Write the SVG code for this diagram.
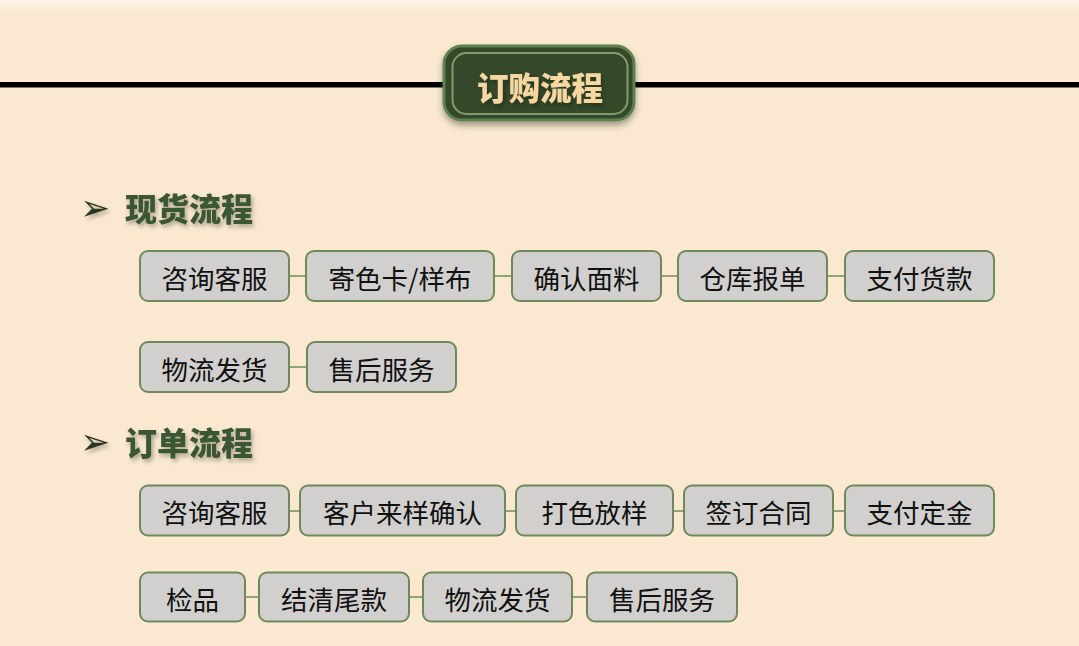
<svg xmlns="http://www.w3.org/2000/svg" width="1079" height="646" viewBox="0 0 1079 646">
<defs>
<linearGradient id="bgTop" x1="0" y1="0" x2="0" y2="1">
<stop offset="0" stop-color="#fdf6ea"/>
<stop offset="1" stop-color="#fae9d0"/>
</linearGradient>
<filter id="shadow" x="-20%" y="-20%" width="140%" height="160%">
<feDropShadow dx="0" dy="4" stdDeviation="3" flood-color="#000" flood-opacity="0.35"/>
</filter>
<filter id="tshadow" x="-10%" y="-20%" width="130%" height="160%">
<feDropShadow dx="2" dy="3" stdDeviation="2" flood-color="#000" flood-opacity="0.3"/>
</filter>
<style>
.box{fill:#d1d0cf;stroke:#6e8a5c;stroke-width:2}
.lbl{font-family:"Noto Sans CJK SC","Noto Sans",sans-serif;font-size:26.5px;fill:#111;text-anchor:middle;dominant-baseline:central}
.conn line{stroke:#6e8a5c;stroke-width:1.5}
.head{font-family:"Noto Sans CJK SC",sans-serif;font-size:32px;font-weight:900;fill:#3b5732}
.arrow{font-family:"DejaVu Sans",sans-serif;font-size:36px;fill:#2a3824}
</style>
</defs>
<rect x="0" y="0" width="1079" height="646" fill="#fae9d0"/>
<rect x="0" y="0" width="1079" height="12" fill="url(#bgTop)"/>
<g id="header">
<rect x="0" y="82" width="445" height="5.5" fill="#000"/>
<rect x="633" y="82" width="446" height="5.5" fill="#000"/>
<rect x="444" y="46" width="190" height="74" rx="18" fill="#344a2c" stroke="#5f8050" stroke-width="3" filter="url(#shadow)"/>
<rect x="452.5" y="53" width="175" height="61" rx="14" fill="none" stroke="#809c69" stroke-width="2"/>
<text x="540" y="100" text-anchor="middle" font-family="Noto Sans CJK SC,sans-serif" font-size="31.5" font-weight="900" fill="#f6d7a1" filter="url(#tshadow)">订购流程</text>
</g>
<g id="heading1">
<text class="arrow" x="80" y="220" filter="url(#tshadow)">➢</text>
<text class="head" x="125" y="221" filter="url(#tshadow)">现货流程</text>
</g>
<g id="heading2">
<text class="arrow" x="80" y="454" filter="url(#tshadow)">➢</text>
<text class="head" x="125" y="455" filter="url(#tshadow)">订单流程</text>
</g>
<g id="connectors" class="conn">
<line x1="289" y1="276" x2="306" y2="276"/>
<line x1="494" y1="276" x2="512" y2="276"/>
<line x1="661" y1="276" x2="678" y2="276"/>
<line x1="827" y1="276" x2="845" y2="276"/>
<line x1="289" y1="367" x2="307" y2="367"/>
<line x1="289" y1="511" x2="300" y2="511"/>
<line x1="505" y1="511" x2="516" y2="511"/>
<line x1="673" y1="511" x2="684" y2="511"/>
<line x1="833" y1="511" x2="845" y2="511"/>
<line x1="245" y1="597" x2="259" y2="597"/>
<line x1="409" y1="597" x2="423" y2="597"/>
<line x1="572" y1="597" x2="587" y2="597"/>
</g>
<g id="n1"><rect class="box" x="140" y="251" width="149" height="50" rx="8"/><text class="lbl" x="214.5" y="277">咨询客服</text></g>
<g id="n2"><rect class="box" x="306" y="251" width="188" height="50" rx="8"/><text class="lbl" x="400" y="277">寄色卡/样布</text></g>
<g id="n3"><rect class="box" x="512" y="251" width="149" height="50" rx="8"/><text class="lbl" x="586.5" y="277">确认面料</text></g>
<g id="n4"><rect class="box" x="678" y="251" width="149" height="50" rx="8"/><text class="lbl" x="752.5" y="277">仓库报单</text></g>
<g id="n5"><rect class="box" x="845" y="251" width="149" height="50" rx="8"/><text class="lbl" x="919.5" y="277">支付货款</text></g>
<g id="n6"><rect class="box" x="140" y="342" width="149" height="50" rx="8"/><text class="lbl" x="214.5" y="368">物流发货</text></g>
<g id="n7"><rect class="box" x="307" y="342" width="149" height="50" rx="8"/><text class="lbl" x="381.5" y="368">售后服务</text></g>
<g id="m1"><rect class="box" x="140" y="485.5" width="149" height="50" rx="8"/><text class="lbl" x="214.5" y="511.5">咨询客服</text></g>
<g id="m2"><rect class="box" x="300" y="485.5" width="205" height="50" rx="8"/><text class="lbl" x="402.5" y="511.5">客户来样确认</text></g>
<g id="m3"><rect class="box" x="516" y="485.5" width="157" height="50" rx="8"/><text class="lbl" x="594.5" y="511.5">打色放样</text></g>
<g id="m4"><rect class="box" x="684" y="485.5" width="149" height="50" rx="8"/><text class="lbl" x="758.5" y="511.5">签订合同</text></g>
<g id="m5"><rect class="box" x="845" y="485.5" width="149" height="50" rx="8"/><text class="lbl" x="919.5" y="511.5">支付定金</text></g>
<g id="m6"><rect class="box" x="140" y="572.5" width="105" height="49" rx="8"/><text class="lbl" x="192.5" y="598">检品</text></g>
<g id="m7"><rect class="box" x="259" y="572.5" width="150" height="49" rx="8"/><text class="lbl" x="334" y="598">结清尾款</text></g>
<g id="m8"><rect class="box" x="423" y="572.5" width="149" height="49" rx="8"/><text class="lbl" x="497.5" y="598">物流发货</text></g>
<g id="m9"><rect class="box" x="587" y="572.5" width="150" height="49" rx="8"/><text class="lbl" x="662" y="598">售后服务</text></g>
</svg>
